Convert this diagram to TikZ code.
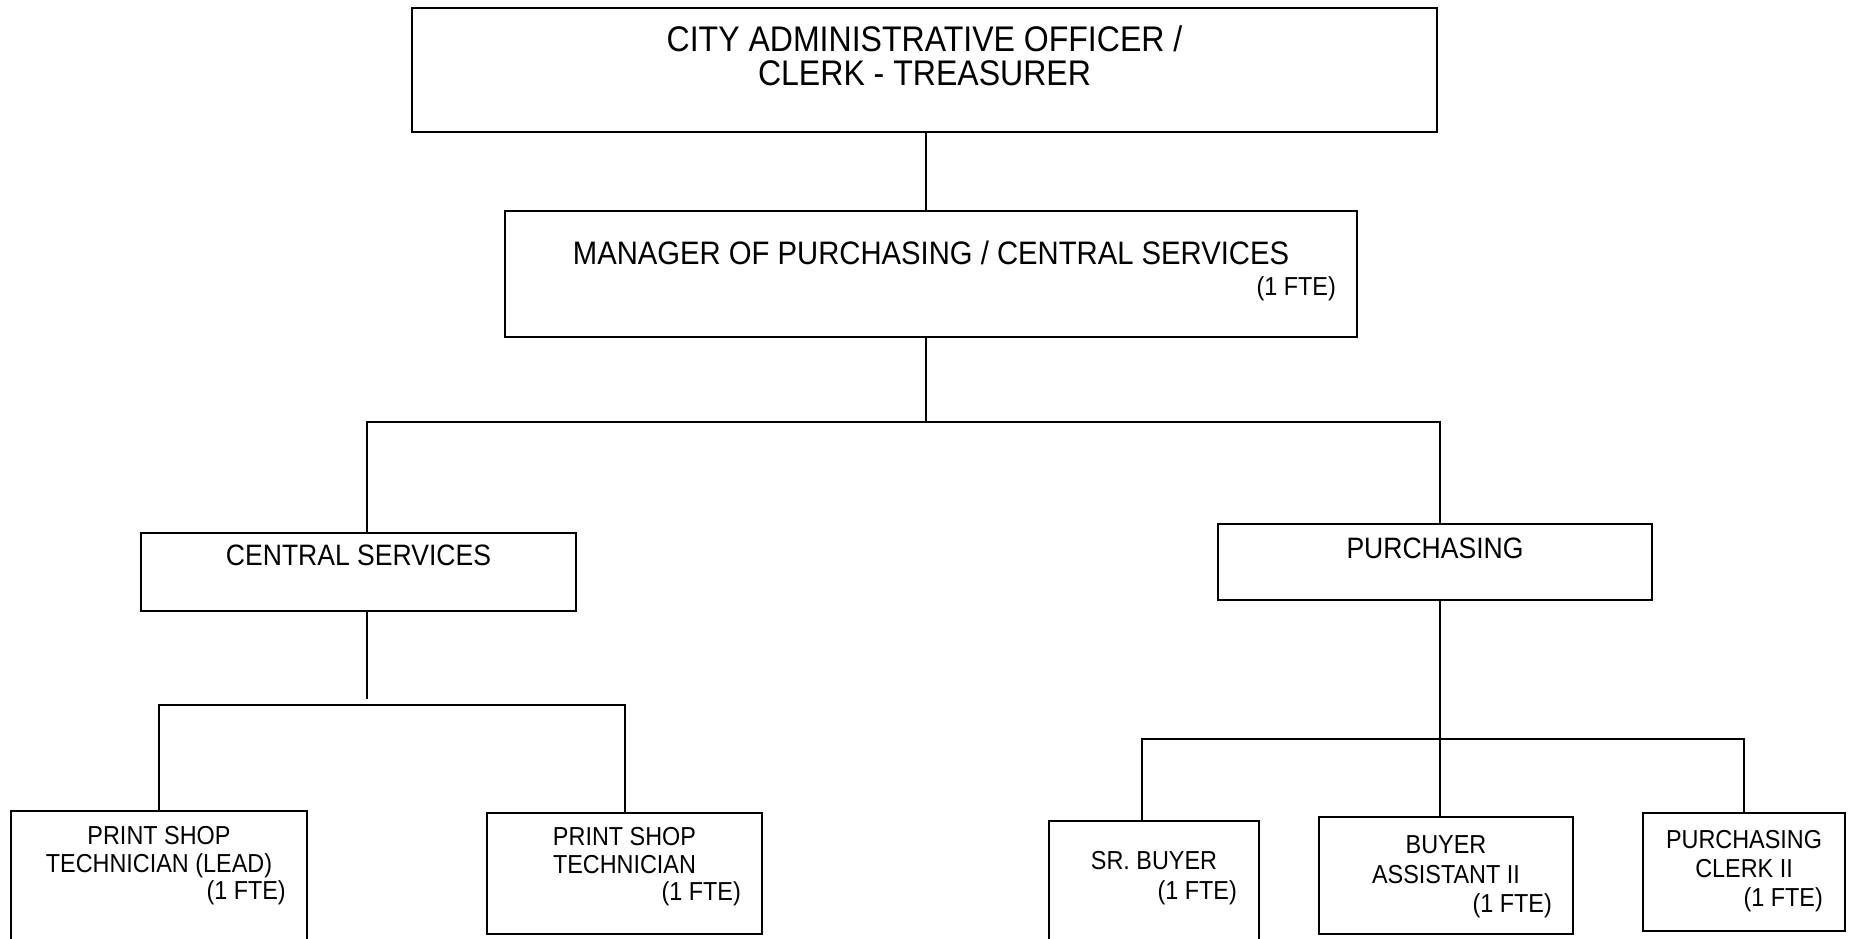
\documentclass[tikz,border=0pt]{standalone}
\usepackage{fontspec}
\setmainfont{Liberation Sans}[FakeStretch=0.9]

\tikzset{
  box/.style={draw, line width=1.8pt, inner sep=0pt},
  link/.style={line width=1.8pt},
  title/.style={anchor=north, align=center, inner sep=0pt},
  fte/.style={anchor=base east, inner sep=0pt, font=\fontsize{26}{29}\selectfont},
  huge/.style={font=\fontsize{35.6}{34.5}\selectfont},
  large/.style={font=\fontsize{32.5}{34}\selectfont},
  mid/.style={font=\fontsize{29.5}{32}\selectfont},
  small/.style={font=\fontsize{26}{28}\selectfont},
}

\begin{document}
\begin{tikzpicture}[x=1pt,y=-1pt]
\useasboundingbox (0,0) rectangle (1852,938);
\fill[white] (0,0) rectangle (1852,938);
\clip (0,0) rectangle (1852,938);

% Top two levels
\node[box, minimum width=1025pt, minimum height=124pt] (cao) at (924.5,70) {};
\node[title, huge] (caotext) at (924.5,25) {CITY ADMINISTRATIVE OFFICER /\\CLERK - TREASURER};
\node[box, minimum width=852pt, minimum height=126pt] (mgr) at (931,274) {};
\node[title, large] (mgrtext) at (931,240.7) {MANAGER OF PURCHASING / CENTRAL SERVICES};
\node[fte] (mgrfte) at (1336,295) {(1 FTE)};

% Divisions
\node[box, minimum width=435pt, minimum height=78pt] (cs) at (358.5,572) {};
\node[title, mid] (cstext) at (358.5,545) {CENTRAL SERVICES};
\node[box, minimum width=434pt, minimum height=76pt] (pur) at (1435,562) {};
\node[title, mid] (purtext) at (1435,538) {PURCHASING};

% Central services staff
\node[box, minimum width=296pt, minimum height=134pt] (lead) at (159,878) {};
\node[title, small] (leadtext) at (159,826.4) {PRINT SHOP\\TECHNICIAN (LEAD)};
\node[fte] (leadfte) at (286,899) {(1 FTE)};
\node[box, minimum width=275pt, minimum height=121pt] (tech) at (624.5,873.5) {};
\node[title, small] (techtext) at (624.5,827.4) {PRINT SHOP\\TECHNICIAN};
\node[fte] (techfte) at (741,900) {(1 FTE)};

% Purchasing staff
\node[box, minimum width=210pt, minimum height=124pt] (sr) at (1154,883) {};
\node[title, small] (srtext) at (1154,851.4) {SR. BUYER};
\node[fte] (srfte) at (1237,899) {(1 FTE)};
\node[box, minimum width=254pt, minimum height=117pt] (ba) at (1446,875.5) {};
\node[title, font=\fontsize{26}{30}\selectfont] (batext) at (1446,835.4) {BUYER\\ASSISTANT II};
\node[fte] (bafte) at (1552,912) {(1 FTE)};
\node[box, minimum width=202pt, minimum height=118pt] (clk) at (1744,872) {};
\node[title, font=\fontsize{26}{29}\selectfont] (clktext) at (1744,830.4) {PURCHASING\\CLERK II};
\node[fte] (clkfte) at (1823,906) {(1 FTE)};

% Connectors
\coordinate (j1) at (926,422);
\coordinate (jl) at (367,422);
\coordinate (jr) at (1440,422);
\draw[link] (cao.south -| j1) -- (mgr.north -| j1);
\draw[link] (mgr.south -| j1) -- (j1);
\draw[link] (cs.north -| jl) -- (jl) -- (jr) -- (pur.north -| jr);

\coordinate (csend) at (367,699);
\coordinate (br) at (625,705);
\draw[link] (cs.south -| csend) -- (csend);
\draw[link] (lead.north) |- (br) -- (tech.north -| br);

\coordinate (rl) at (1142,739);
\coordinate (rm) at (1440,739);
\coordinate (rr) at (1744,739);
\draw[link] (pur.south -| rm) -- (ba.north -| rm);
\draw[link] (sr.north -| rl) -- (rl) -- (rr) -- (clk.north);
\end{tikzpicture}
\end{document}
